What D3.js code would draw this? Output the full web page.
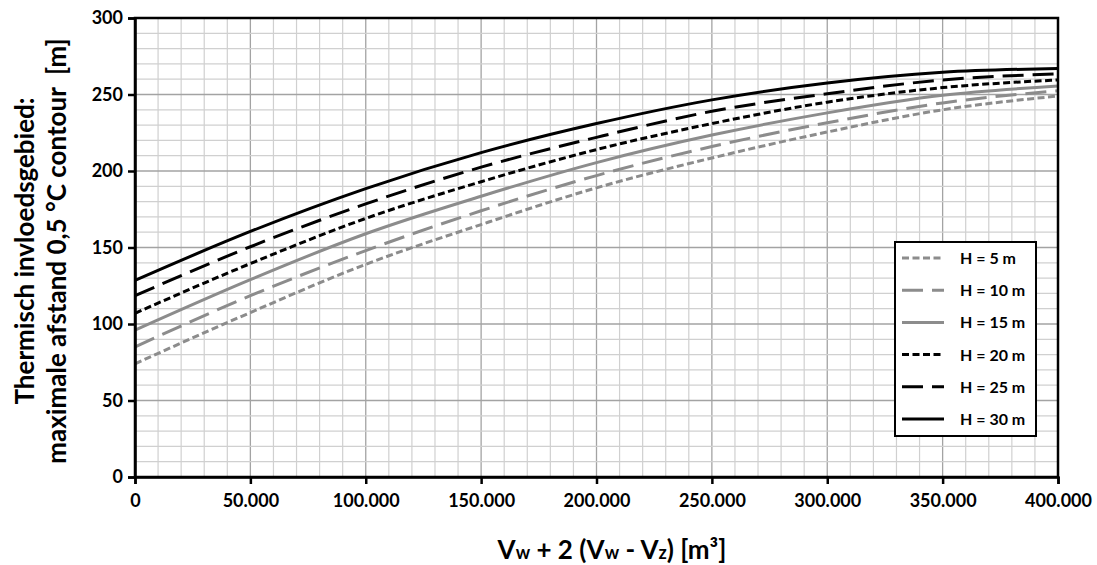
<!DOCTYPE html>
<html>
<head>
<meta charset="utf-8">
<script src="https://cdn.jsdelivr.net/npm/d3@7"></script>
<style>
  html, body { margin: 0; padding: 0; background: #fff; }
  svg { display: block; font-family: Lato, "Open Sans", sans-serif; }
</style>
</head>
<body>
<svg id="chart" width="1097" height="565"></svg>
<script>
// Volume on the x axis (m³)
const volumes = [0, 50000, 100000, 150000, 200000, 250000, 300000, 350000, 400000];

// Maximum distance of the 0,5 °C contour (m) for each filter depth H
const h5  = [74, 107.5, 139, 165, 189, 208.5, 225.5, 240, 249];
const h10 = [85, 118.5, 148, 174, 197, 216, 231.5, 244.5, 252.5];
const h15 = [96, 129, 159, 183.5, 205.5, 223.5, 238, 249.5, 255.5];
const h20 = [107, 139.5, 169, 193, 214, 231, 245, 254.5, 259.5];
const h25 = [118.5, 150.5, 178.5, 202.5, 222, 239, 250.5, 259.5, 263.5];
const h30 = [128.5, 160.5, 188.5, 212, 231, 246.5, 257.5, 264.5, 267];

const seriesNames = ["H = 5 m", "H = 10 m", "H = 15 m", "H = 20 m", "H = 25 m", "H = 30 m"];
const seriesValues = [h5, h10, h15, h20, h25, h30];

const xTicks = [0, 50000, 100000, 150000, 200000, 250000, 300000, 350000, 400000];
const yTicks = [0, 50, 100, 150, 200, 250, 300];

// Line styles per series
const GREY = "#8c8c8c";
const styles = [
  { color: GREY,   dash: "7,3.5" },
  { color: GREY,   dash: "21,9" },
  { color: GREY,   dash: null },
  { color: "#000", dash: "7,3.5" },
  { color: "#000", dash: "21,9" },
  { color: "#000", dash: null }
];

const svg = d3.select("#chart");
const plot = { left: 135, right: 1058, top: 18, bottom: 477 };

const x = d3.scaleLinear().domain([0, 400000]).range([plot.left, plot.right]);
const y = d3.scaleLinear().domain([0, 300]).range([plot.bottom, plot.top]);

// Grid: minor every 10.000 m³ / 10 m, major every 50.000 m³ / 50 m
const grid = svg.append("g");
d3.range(0, 400001, 10000).forEach(v => {
  const major = v % 50000 === 0;
  grid.append("line")
    .attr("x1", x(v)).attr("x2", x(v))
    .attr("y1", plot.top).attr("y2", plot.bottom)
    .attr("stroke", major ? "#a3a3a3" : "#d0d0d0")
    .attr("stroke-width", major ? 1.3 : 1.2);
});
d3.range(0, 301, 10).forEach(v => {
  const major = v % 50 === 0;
  grid.append("line")
    .attr("x1", plot.left).attr("x2", plot.right)
    .attr("y1", y(v)).attr("y2", y(v))
    .attr("stroke", major ? "#a3a3a3" : "#d0d0d0")
    .attr("stroke-width", major ? 1.3 : 1.2);
});

// Curves
const line = d3.line()
  .x((d, i) => x(volumes[i]))
  .y(d => y(d))
  .curve(d3.curveMonotoneX);

seriesValues.forEach((vals, i) => {
  svg.append("path")
    .datum(vals)
    .attr("d", line)
    .attr("fill", "none")
    .attr("stroke", styles[i].color)
    .attr("stroke-width", 3)
    .attr("stroke-dasharray", styles[i].dash);
});

// Plot frame
svg.append("rect")
  .attr("x", plot.left).attr("y", plot.top)
  .attr("width", plot.right - plot.left).attr("height", plot.bottom - plot.top)
  .attr("fill", "none").attr("stroke", "#000").attr("stroke-width", 2.5);

// Axes
const fmt = v => d3.format(",")(v).replace(/,/g, ".");
const yAxis = svg.append("g")
  .attr("transform", `translate(${plot.left},0)`)
  .call(d3.axisLeft(y).tickValues(yTicks).tickSize(7).tickPadding(5));
const xAxis = svg.append("g")
  .attr("transform", `translate(0,${plot.bottom})`)
  .call(d3.axisBottom(x).tickValues(xTicks).tickFormat(fmt).tickSize(7).tickPadding(10));

[yAxis, xAxis].forEach(a => {
  a.select(".domain").attr("stroke", "#000").attr("stroke-width", 2.5);
  a.selectAll(".tick line").attr("stroke", "#000").attr("stroke-width", 2.5);
  a.selectAll(".tick text")
    .attr("fill", "#000")
    .style("font-size", "18px")
    .style("font-weight", "bold")
    .style("font-family", "Lato, 'Open Sans', sans-serif");
});

// Axis titles
const xTitle = svg.append("text")
  .attr("x", 612).attr("y", 559)
  .attr("text-anchor", "middle")
  .style("font-size", "26px")
  .style("font-weight", "bold");
xTitle.append("tspan").text("V");
xTitle.append("tspan").text("w").style("font-size", "18px");
xTitle.append("tspan").text(" + 2 (V");
xTitle.append("tspan").text("w").style("font-size", "18px");
xTitle.append("tspan").text(" - V");
xTitle.append("tspan").text("z").style("font-size", "18px");
xTitle.append("tspan").text(") [m³]");

const yTitle = svg.append("g").attr("transform", "translate(0,251) rotate(-90)");
yTitle.append("text")
  .attr("x", 0).attr("y", 34)
  .attr("text-anchor", "middle")
  .style("font-size", "26px")
  .style("font-weight", "bold")
  .text("Thermisch invloedsgebied:");
yTitle.append("text")
  .attr("x", 0).attr("y", 66)
  .attr("text-anchor", "middle")
  .style("font-size", "26px")
  .style("font-weight", "bold")
  .attr("xml:space", "preserve")
  .text("maximale afstand 0,5 °C contour  [m]");

// Legend
const legend = svg.append("g");
legend.append("rect")
  .attr("x", 895).attr("y", 242)
  .attr("width", 141).attr("height", 194)
  .attr("fill", "#fff").attr("stroke", "#000").attr("stroke-width", 2);
seriesNames.forEach((name, i) => {
  const cy = 258 + i * 32.2;
  legend.append("line")
    .attr("x1", 902).attr("x2", 944)
    .attr("y1", cy).attr("y2", cy)
    .attr("stroke", styles[i].color)
    .attr("stroke-width", 3)
    .attr("stroke-dasharray", styles[i].dash);
  legend.append("text")
    .attr("x", 960).attr("y", cy + 6)
    .style("font-size", "16px")
    .style("font-weight", "bold")
    .text(name);
});
</script>
</body>
</html>
